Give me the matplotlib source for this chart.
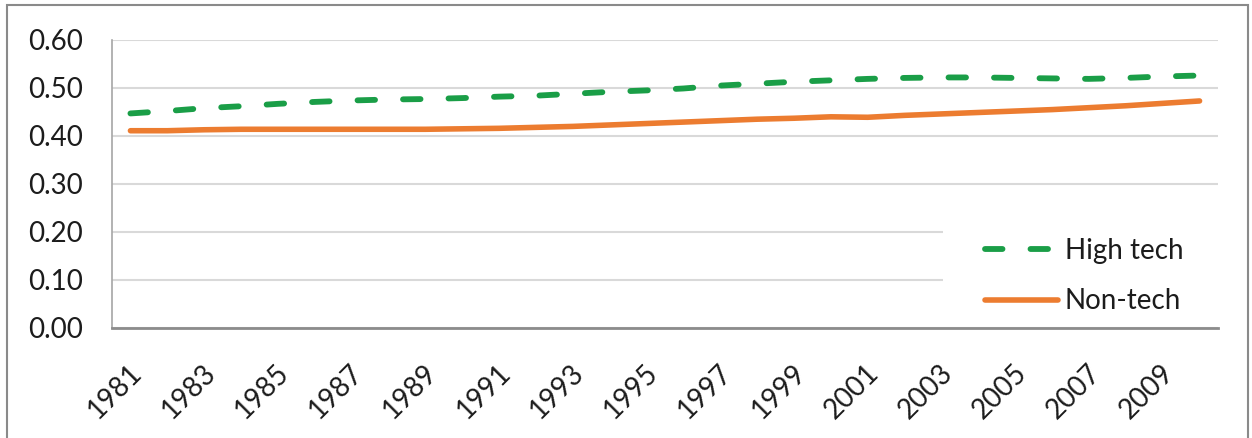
import matplotlib
matplotlib.use("Agg")
import matplotlib.pyplot as plt
from matplotlib.patches import Rectangle
from matplotlib.transforms import ScaledTranslation

plt.rcParams['font.family'] = ['Lato', 'DejaVu Sans']

years = list(range(1981, 2011))
high_tech = [0.447, 0.452, 0.458, 0.462, 0.467, 0.471, 0.474, 0.476, 0.477, 0.479,
             0.482, 0.484, 0.488, 0.492, 0.495, 0.499, 0.505, 0.509, 0.513, 0.516,
             0.519, 0.521, 0.522, 0.522, 0.521, 0.520, 0.519, 0.521, 0.524, 0.526]
non_tech = [0.411, 0.411, 0.413, 0.414, 0.414, 0.414, 0.414, 0.414, 0.414, 0.415,
            0.416, 0.418, 0.420, 0.423, 0.426, 0.429, 0.432, 0.435, 0.437, 0.440,
            0.439, 0.443, 0.446, 0.449, 0.452, 0.455, 0.459, 0.463, 0.468, 0.473]
y_ticks = [0.0, 0.1, 0.2, 0.3, 0.4, 0.5, 0.6]
series_names = ["High tech", "Non-tech"]

W, H, DPI = 1252, 438, 100
fig = plt.figure(figsize=(W / DPI, H / DPI), dpi=DPI)
fig.patch.set_facecolor("white")

left, right, top, bottom = 112, 1218, 40, 328
ax = fig.add_axes([left / W, (H - bottom) / H, (right - left) / W, (bottom - top) / H])

xs = list(range(len(years)))
green = "#1a9e47"
orange = "#ec7c30"
text_color = "#1c1c1c"

ln_h, = ax.plot(xs, high_tech, color=green, lw=4.2, solid_capstyle="round",
                dash_capstyle="round", linestyle=(0, (3.0, 4.8)), zorder=3,
                label=series_names[0])
ln_n, = ax.plot(xs, non_tech, color=orange, lw=4.0, solid_capstyle="round",
                zorder=3, label=series_names[1])

ax.set_xlim(-0.5, len(years) - 0.5)
ax.set_ylim(0, 0.6)
ax.set_yticks(y_ticks)
ax.set_yticklabels([f"{v:.2f}" for v in y_ticks])
ax.yaxis.grid(True, color="#d9d9d9", lw=1.5)
ax.set_axisbelow(True)

tick_idx = xs[::2]
ax.set_xticks(tick_idx)
ax.set_xticklabels([str(years[i]) for i in tick_idx], rotation=45,
                   ha="right", va="top", rotation_mode="anchor")
ax.tick_params(axis="both", length=0, labelsize=20, labelcolor=text_color)
ax.tick_params(axis="y", pad=21)
ax.tick_params(axis="x", pad=23)
shift = ScaledTranslation(-2 / DPI, 0, fig.dpi_scale_trans)
for lab in ax.get_xticklabels():
    lab.set_transform(lab.get_transform() + shift)

for s in ("top", "right"):
    ax.spines[s].set_visible(False)
ax.spines["bottom"].set_color("#8c8c8c")
ax.spines["bottom"].set_linewidth(2.0)
ax.spines["left"].set_color("#a6a6a6")
ax.spines["left"].set_linewidth(1.2)

# white patch behind the legend hiding the gridlines
lx0, lx1, ly0, ly1 = 943, 1218, 196, 326
ax.add_patch(Rectangle(((lx0 - left) / (right - left), (bottom - ly1) / (bottom - top)),
                       (lx1 - lx0) / (right - left), (ly1 - ly0) / (bottom - top),
                       transform=ax.transAxes, facecolor="white", edgecolor="none",
                       zorder=1))

leg = ax.legend(handles=[ln_h, ln_n], loc="upper left", frameon=False,
                bbox_to_anchor=(985 / W, 1 - 238 / H), bbox_transform=fig.transFigure,
                borderpad=0, borderaxespad=0, fontsize=20, handlelength=2.62,
                handletextpad=0.25, labelspacing=0.88)
for t in leg.get_texts():
    t.set_color(text_color)

# outer frame
fig.add_artist(Rectangle((7 / W, -0.05), (1248 - 7) / W, 1.05 - 5 / H,
                         transform=fig.transFigure, facecolor="none",
                         edgecolor="#8a8a8a", lw=1.5, clip_on=False))

fig.savefig("out.png", dpi=DPI, facecolor="white")
